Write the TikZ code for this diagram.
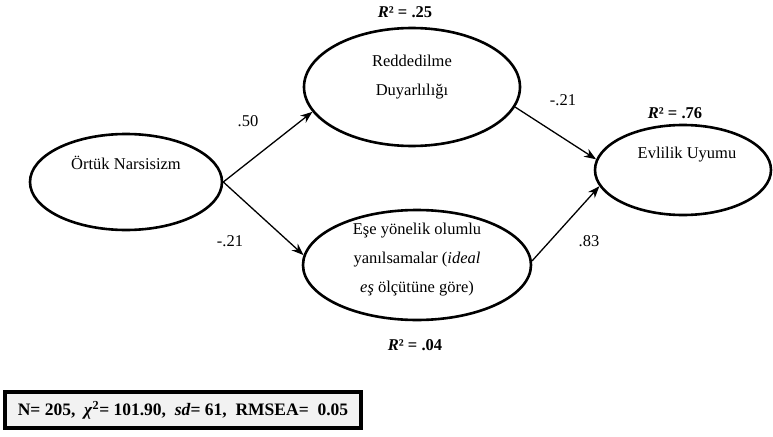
\documentclass[tikz,border=0pt]{standalone}
\usepackage{fontspec}
\setmainfont{Liberation Serif}
\usetikzlibrary{shapes.geometric,positioning,arrows.meta}

\begin{document}
\begin{tikzpicture}[x=1pt,y=-1pt,
    latent/.style={draw,ellipse,line width=2.6pt,inner sep=0pt},
    txt/.style={align=center,font=\fontsize{16.5}{29}\selectfont},
    coef/.style={font=\fontsize{16.5}{20}\selectfont},
    rsq/.style={font=\fontsize{16.5}{20}\selectfont\bfseries},
    path/.style={line width=1.3pt,-{Stealth[length=12pt,width=9pt]}}]
    \useasboundingbox (0,0) rectangle (773,436);
    % latent variables
    \node[latent,minimum width=192pt,minimum height=96pt] (ortuk) at (126,182) {};
    \node[latent,minimum width=216pt,minimum height=118pt] (redd) at (412,87) {};
    \node[latent,minimum width=228pt,minimum height=110pt] (ese) at (417,265) {};
    \node[latent,minimum width=176pt,minimum height=90pt] (evlilik) at (683,170) {};
    \node[txt] (ortuktxt) at (126,163) {Örtük Narsisizm};
    \node[txt] (reddtxt) at (412,77) {Reddedilme\\Duyarlılığı};
    \node[txt] (esetxt) at (417,260) {Eşe yönelik olumlu\\yanılsamalar (\textit{ideal}\\\textit{eş} ölçütüne göre)};
    \node[txt] (evliliktxt) at (687,155) {Evlilik Uyumu};
    % R squared
    \node[rsq] (r2redd) at (405,12) {\textit{R}² = .25};
    \node[rsq] (r2ese) at (415,345) {\textit{R}² = .04};
    \node[rsq] (r2evl) at (675,113) {\textit{R}² = .76};
    % paths
    \draw[path] (ortuk.east) -- (redd.194);
    \draw[path] (ortuk.east) -- (ese.175);
    \draw[path] (redd.-11) -- (evlilik.173);
    \draw[path] (ese.2) -- (evlilik.191);
    \node[coef] (c1) at (248,121) {.50};
    \node[coef] (c2) at (230,241) {-.21};
    \node[coef] (c3) at (563,100) {-.21};
    \node[coef] (c4) at (589,241) {.83};
    % fit indices
    \node[draw,line width=4.5pt,fill=black!5,minimum width=356pt,minimum height=36pt,
      font=\fontsize{17.5}{20}\selectfont\bfseries] (fit) at (183,410)
      {N= 205,\ \ \textit{χ}\textsuperscript{2}= 101.90,\ \ \textit{sd}= 61,\ \ RMSEA=\ \ 0.05};
\end{tikzpicture}
\end{document}
